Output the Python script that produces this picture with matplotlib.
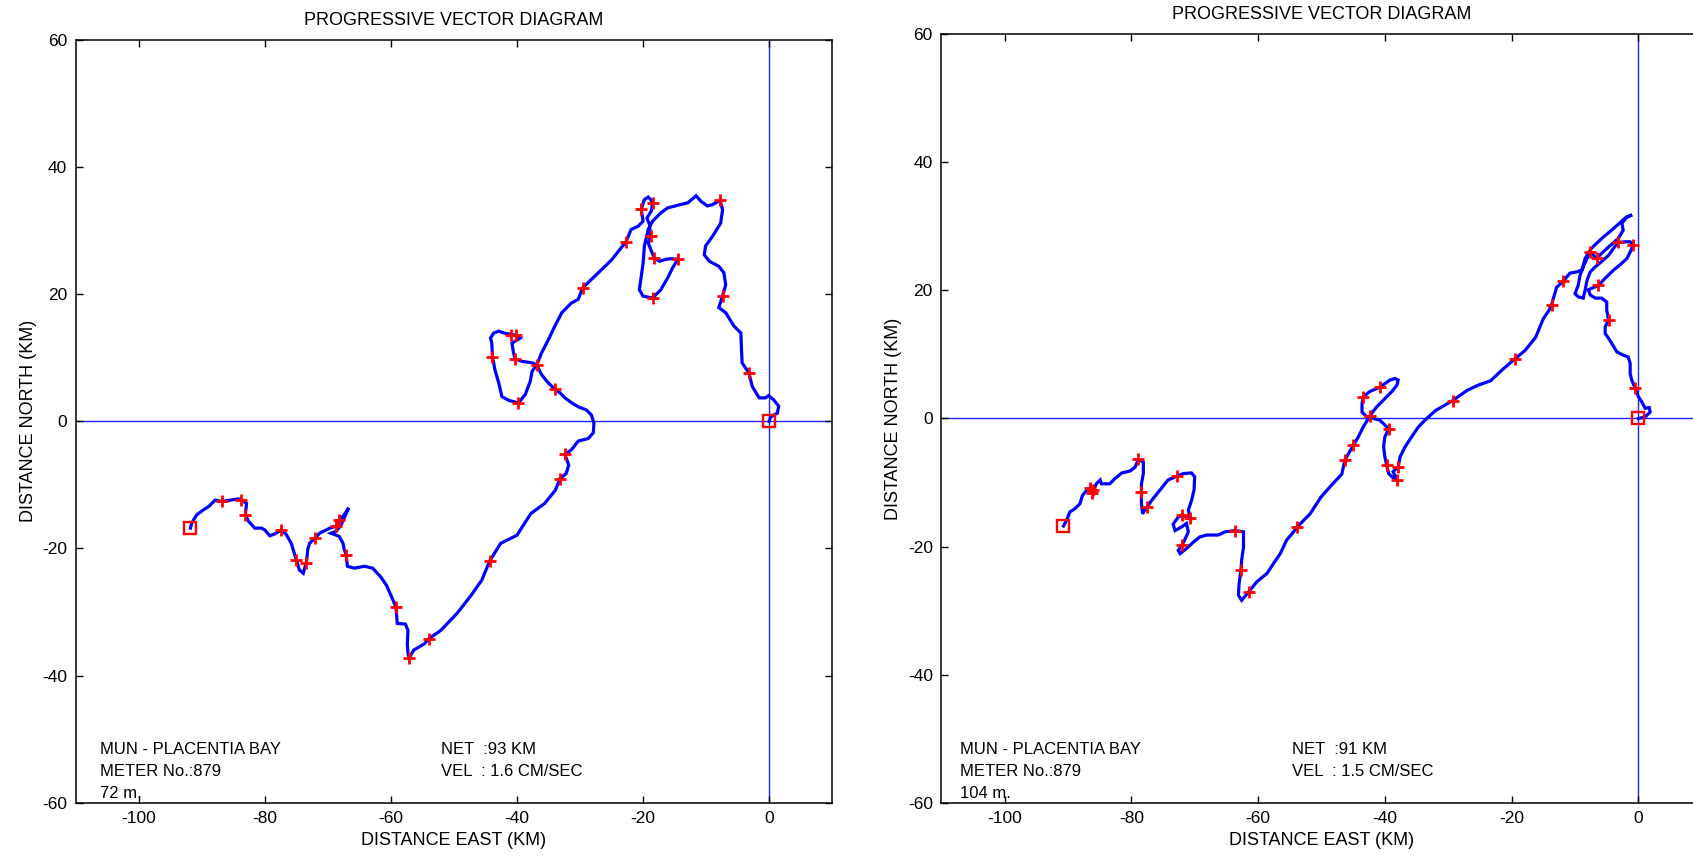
import numpy as np
import matplotlib
matplotlib.use("Agg")
import matplotlib.pyplot as plt

plt.rcParams["font.family"] = ["Liberation Sans", "DejaVu Sans"]
plt.rcParams["axes.unicode_minus"] = False

# ---- left meter (72 m) : track in km, start square -> end at origin
left_x = [-91.8, -91.6, -90.8, -89.7, -88.9, -87.9, -86.8, -85.5, -84.2, -83.7, -82.9, -83.0, -83.1, -82.6,
          -81.6, -80.5, -80.0, -79.2, -78.4, -77.4, -76.6, -75.8, -75.5, -75.0, -74.5, -73.9, -73.6, -73.4,
          -73.2, -72.9, -72.1, -71.3, -70.3, -69.7, -68.7, -68.2, -67.4, -66.7, -67.9, -68.7, -69.5, -68.2,
          -67.6, -67.4, -67.1, -66.9, -65.8, -64.2, -62.9, -61.6, -60.7, -59.9, -59.2, -59.0, -57.7, -57.3,
          -57.4, -57.3, -57.1, -56.4, -54.7, -54.0, -52.1, -49.5, -47.3, -45.6, -44.3, -42.6, -40.0, -37.8,
          -35.6, -33.9, -33.2, -32.2, -31.8, -32.4, -31.3, -30.3, -28.7, -27.9, -27.8, -28.2, -29.0, -30.3,
          -31.3, -32.4, -33.2, -34.0, -35.0, -36.1, -36.9, -37.6, -39.2, -40.3, -40.6, -40.8, -39.5, -40.6,
          -41.3, -42.1, -42.9, -43.7, -44.2, -44.0, -43.9, -43.5, -42.9, -42.4, -41.3, -39.8, -38.7, -37.9,
          -37.6, -36.9, -36.1, -35.0, -34.0, -32.9, -31.4, -30.3, -29.6, -27.5, -25.0, -22.7, -21.9, -20.8,
          -20.0, -20.3, -19.8, -19.2, -18.8, -18.5, -18.7, -19.4, -19.0, -18.8, -19.2, -18.7, -18.2, -17.4,
          -16.4, -15.6, -14.5, -15.3, -16.1, -17.2, -18.5, -20.0, -20.6, -20.3, -20.0, -19.8, -19.2, -18.5,
          -17.2, -16.1, -14.5, -12.9, -11.6, -10.8, -9.8, -9.0, -7.8, -7.4, -7.7, -9.0, -10.1, -10.3,
          -9.5, -8.0, -7.2, -6.9, -7.4, -8.0, -6.9, -5.6, -4.5, -4.4, -4.3, -3.2, -2.7, -1.6,
          -0.6, -0.1, 0.7, 1.5, 1.3, 0.2, 0.0]
left_y = [-16.8, -16.0, -14.7, -13.9, -13.4, -12.4, -12.6, -12.4, -12.2, -12.4, -12.9, -13.9, -14.7, -15.7,
          -16.8, -16.8, -17.1, -18.0, -17.7, -17.1, -17.8, -19.2, -20.2, -21.8, -23.4, -23.9, -22.8, -22.3,
          -20.2, -19.2, -18.4, -17.6, -17.1, -16.8, -16.5, -15.5, -14.7, -13.6, -16.3, -17.3, -17.6, -18.1,
          -19.2, -20.2, -21.0, -22.8, -23.1, -22.8, -23.1, -24.5, -25.8, -27.6, -29.2, -31.8, -31.9, -32.9,
          -35.0, -36.5, -37.2, -36.0, -35.0, -34.2, -32.9, -30.2, -27.4, -25.0, -21.9, -19.2, -17.9, -14.5,
          -12.9, -10.8, -9.0, -8.2, -6.9, -5.2, -4.4, -3.1, -2.7, -1.8, -0.3, 1.0, 1.8, 2.3,
          2.9, 3.7, 4.5, 5.1, 6.0, 7.35, 8.9, 9.2, 9.45, 9.8, 11.0, 12.3, 13.1, 13.65,
          13.75, 13.9, 14.2, 13.9, 13.1, 12.3, 10.2, 8.1, 6.05, 3.9, 3.3, 2.9, 4.2, 6.3,
          7.9, 8.8, 10.8, 12.9, 15.0, 17.1, 18.6, 19.2, 21.0, 23.0, 25.4, 28.3, 30.2, 30.7,
          31.5, 33.4, 34.9, 35.3, 34.9, 34.4, 33.1, 32.0, 31.0, 29.1, 28.1, 26.8, 25.7, 25.2,
          25.5, 25.6, 25.5, 24.2, 22.6, 20.7, 19.4, 19.7, 20.7, 22.8, 24.9, 27.6, 30.2, 31.5,
          32.8, 33.6, 34.0, 34.4, 35.5, 34.6, 33.9, 34.1, 34.8, 33.3, 31.2, 29.1, 27.6, 26.2,
          25.2, 24.4, 23.4, 21.5, 19.7, 17.9, 17.1, 15.0, 13.9, 11.3, 9.2, 7.6, 5.5, 3.7,
          3.7, 4.05, 3.4, 2.4, 1.3, 0.7, 0.0]
left_cross_x = [-86.8, -83.7, -83.1, -77.4, -75.0, -73.4, -72.1, -68.7, -68.2, -67.1, -59.2, -57.1, -54.0,
                -44.3, -33.2, -32.4, -34.0, -36.9, -40.3, -39.8, -43.9, -40.9, -40.1, -29.6, -22.7, -20.3,
                -18.5, -18.8, -18.2, -14.5, -18.5, -7.8, -7.4, -3.2]
left_cross_y = [-12.6, -12.4, -14.7, -17.1, -21.8, -22.3, -18.4, -16.5, -15.5, -21.0, -29.2, -37.2, -34.2,
                -21.9, -9.0, -5.2, 5.1, 8.9, 9.8, 2.9, 10.2, 13.6, 13.6, 21.0, 28.3, 33.4,
                34.4, 29.1, 25.7, 25.5, 19.4, 34.8, 19.7, 7.6]

# ---- right meter (104 m)
right_x = [-90.7, -90.2, -89.7, -88.9, -88.1, -87.7, -87.0, -86.5, -86.0, -85.5, -84.9, -84.7, -83.4, -82.6,
           -81.5, -80.2, -79.4, -78.9, -78.1, -78.1, -78.4, -78.4, -78.4, -78.2, -77.8, -77.5, -76.8, -75.5,
           -74.2, -72.8, -71.8, -70.5, -70.0, -70.1, -70.5, -71.0, -70.7, -72.0, -72.6, -73.4, -73.1, -72.0,
           -71.3, -71.0, -71.5, -72.0, -72.6, -72.3, -71.3, -70.2, -69.2, -68.1, -66.3, -65.2, -63.6, -62.3,
           -62.3, -62.6, -62.7, -63.0, -63.1, -62.6, -61.5, -60.2, -58.6, -57.6, -56.5, -55.5, -54.4, -53.9,
           -51.8, -50.1, -48.5, -46.8, -46.3, -45.0, -44.2, -43.4, -42.6, -43.1, -43.6, -43.6, -43.4, -42.4,
           -40.8, -39.2, -38.4, -37.9, -38.1, -38.9, -40.0, -41.3, -42.1, -42.4, -41.8, -40.8, -39.4, -40.0,
           -40.2, -40.0, -39.7, -39.4, -38.9, -38.1, -38.7, -37.9, -37.6, -36.8, -35.8, -34.7, -33.4, -32.0,
           -29.3, -27.0, -25.3, -23.3, -21.6, -19.5, -17.9, -16.2, -15.0, -14.1, -13.7, -12.9, -11.9, -10.8,
           -9.7, -8.9, -8.4, -7.4, -5.8, -3.9, -2.1, -1.0, -1.8, -2.6, -2.4, -3.2, -4.7, -5.8,
           -6.6, -7.6, -8.1, -8.7, -9.2, -9.5, -10.0, -9.5, -8.7, -8.4, -8.1, -7.6, -6.8, -5.8,
           -4.7, -3.9, -3.2, -2.1, -1.3, -0.8, -1.3, -1.8, -2.9, -3.9, -5.25, -6.3, -7.9, -7.6,
           -6.8, -5.8, -5.0, -5.0, -4.7, -5.25, -5.25, -4.5, -3.9, -3.4, -2.4, -1.6, -1.3, -1.3,
           -1.05, -0.5, 0.0, 0.53, 1.06, 1.7, 1.85, 1.06, 0.0]
right_y = [-16.8, -15.9, -14.6, -14.1, -13.3, -12.0, -11.2, -10.9, -11.2, -10.2, -9.6, -10.2, -10.2, -9.4,
           -8.5, -8.2, -7.6, -6.4, -6.8, -8.6, -10.2, -11.5, -13.3, -14.9, -14.1, -13.8, -12.8, -11.2,
           -9.6, -9.0, -8.6, -8.5, -9.1, -11.2, -12.8, -14.3, -15.6, -15.1, -15.4, -16.5, -17.5, -16.9,
           -16.4, -17.7, -18.8, -19.8, -20.6, -21.1, -20.3, -19.3, -18.5, -18.2, -18.2, -17.7, -17.5, -17.7,
           -20.1, -22.2, -23.7, -25.8, -27.6, -28.4, -27.1, -25.5, -24.2, -22.7, -21.1, -19.0, -17.7, -17.0,
           -14.9, -12.3, -10.5, -8.7, -6.5, -4.2, -2.9, -1.3, 0.0, 0.5, 1.0, 2.3, 3.4, 4.2,
           4.9, 6.0, 6.25, 6.0, 5.2, 4.2, 3.1, 1.8, 0.8, 0.36, 0.0, -0.25, -1.6, -2.9,
           -4.4, -6.0, -7.3, -8.6, -9.1, -9.6, -8.3, -7.6, -6.0, -4.4, -2.9, -1.3, 0.0, 1.25,
           2.8, 4.4, 5.2, 5.9, 7.5, 9.3, 10.6, 12.7, 15.6, 16.9, 17.8, 20.5, 21.4, 22.7,
           22.9, 23.2, 25.0, 26.6, 28.1, 29.7, 31.3, 31.8, 31.5, 30.5, 29.4, 28.1, 26.8, 25.8,
           25.0, 26.0, 25.0, 23.7, 22.4, 20.8, 19.5, 19.0, 18.8, 20.1, 21.6, 22.9, 23.7, 24.5,
           25.5, 26.6, 27.5, 27.6, 27.6, 27.1, 26.0, 25.0, 24.0, 23.2, 21.9, 20.8, 20.1, 19.3,
           18.8, 18.8, 18.2, 16.9, 15.4, 14.3, 13.3, 12.2, 11.2, 10.4, 9.9, 9.6, 8.6, 7.0,
           6.0, 4.7, 3.4, 2.6, 1.6, 1.7, 1.0, 0.25, 0.0]
right_cross_x = [-86.5, -86.2, -86.0, -78.9, -78.4, -77.5, -72.8, -72.0, -70.7, -72.0, -63.6, -62.7, -61.5,
                 -53.9, -46.3, -45.0, -43.4, -40.8, -42.4, -39.4, -39.7, -37.9, -38.1, -29.3, -19.5, -13.7,
                 -11.9, -6.3, -7.6, -6.6, -3.2, -0.8, -4.7, -0.5]
right_cross_y = [-10.9, -11.7, -11.2, -6.4, -11.5, -13.8, -9.0, -15.1, -15.6, -19.8, -17.5, -23.7, -27.1,
                 -17.0, -6.5, -4.2, 3.4, 4.9, 0.36, -1.6, -7.3, -7.6, -9.6, 2.8, 9.3, 17.8,
                 21.4, 20.8, 26.0, 25.0, 27.5, 27.1, 15.4, 4.7]

x_ticks = [-100, -80, -60, -40, -20, 0]
y_ticks = [-60, -40, -20, 0, 20, 40, 60]

left_info = ["MUN - PLACENTIA BAY", "METER No.:879", "72 m."]
left_stats = ["NET  :93 KM", "VEL  : 1.6 CM/SEC"]
right_info = ["MUN - PLACENTIA BAY", "METER No.:879", "104 m."]
right_stats = ["NET  :91 KM", "VEL  : 1.5 CM/SEC"]


def draw_pvd(ax, xs, ys, cx, cy, info, stats, info_x, stats_x):
    ax.axhline(0, color="#1f1fff", lw=1.0, zorder=1)
    ax.axvline(0, color="#1f1fff", lw=1.0, zorder=1)
    ax.plot(xs, ys, color="#0000ff", lw=2.3, solid_joinstyle="miter", zorder=2)
    ax.plot(cx, cy, "+", color="#ff0000", ms=8.5, mew=2.0, zorder=3)
    # start and end of the record
    ax.plot([xs[0], xs[-1]], [ys[0], ys[-1]], "s", mfc="none", mec="#ff0000", ms=8, mew=1.7, zorder=3)

    ax.set_xlim(-110, 10)
    ax.set_ylim(-60, 60)
    ax.set_xticks(x_ticks)
    ax.set_yticks(y_ticks)
    ax.tick_params(direction="in", length=5, width=1, top=True, right=True,
                   labelsize=12.5, pad=6)
    for s in ax.spines.values():
        s.set_linewidth(1.1)
    ax.set_title("PROGRESSIVE VECTOR DIAGRAM", fontsize=13, pad=11)
    ax.set_xlabel("DISTANCE EAST (KM)", fontsize=13, labelpad=4)
    ax.set_ylabel("DISTANCE NORTH (KM)", fontsize=13, labelpad=4)

    for i, t in enumerate(info):
        ax.text(info_x, -51.7 - 3.45 * i, t, fontsize=12, va="center", ha="left")
    for i, t in enumerate(stats):
        ax.text(stats_x, -51.7 - 3.45 * i, t, fontsize=12, va="center", ha="left")


fig = plt.figure(figsize=(16.93, 8.56), dpi=100)
ax1 = fig.add_axes([0.0447, 0.0623, 0.4469, 0.8909])
ax2 = fig.add_axes([0.5559, 0.0623, 0.4493, 0.8976])

draw_pvd(ax1, left_x, left_y, left_cross_x, left_cross_y, left_info, left_stats, -106.2, -52.0)
draw_pvd(ax2, right_x, right_y, right_cross_x, right_cross_y, right_info, right_stats, -107.0, -54.6)

fig.savefig("out.png", dpi=100)
